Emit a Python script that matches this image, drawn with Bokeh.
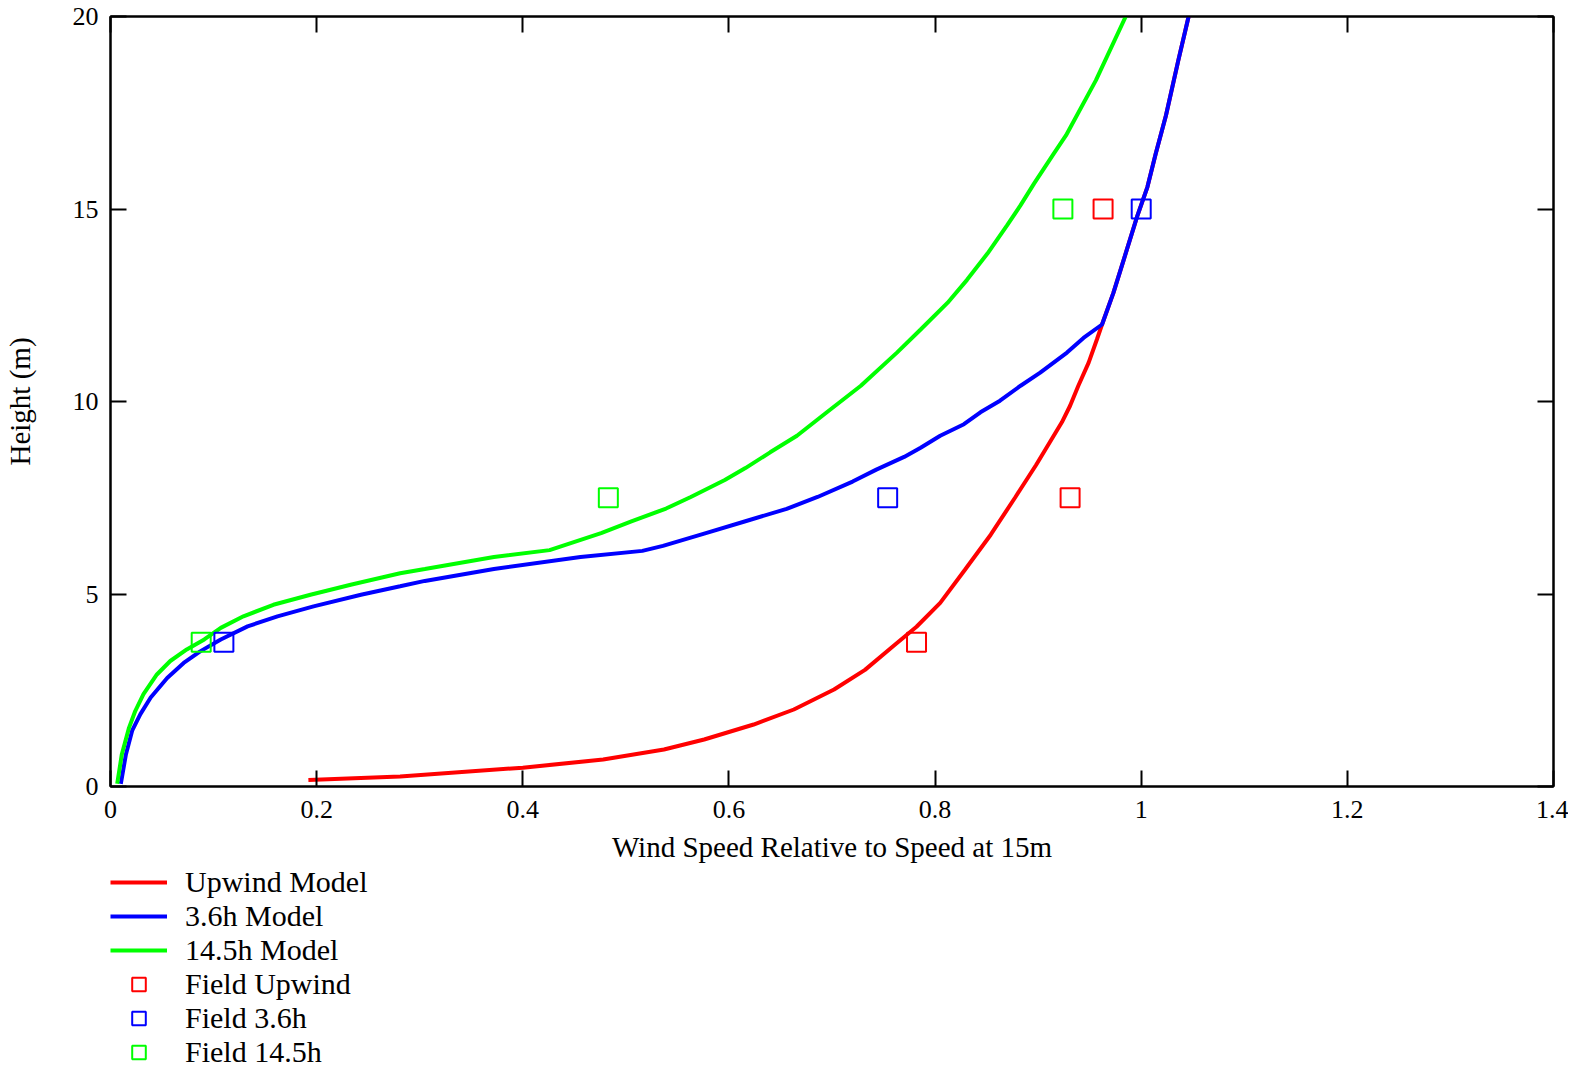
from bokeh.plotting import figure
from bokeh.layouts import column
from bokeh.models import (LinearAxis, FixedTicker, Legend, LegendItem, Range1d,
                          CustomJSTickFormatter)
from bokeh.embed import file_html
from bokeh.resources import INLINE

# ---- data ----
upwind_speed = [0.192, 0.281, 0.400, 0.478, 0.537, 0.576, 0.624, 0.663, 0.702, 0.732,
                0.761, 0.782, 0.805, 0.829, 0.854, 0.878, 0.898, 0.923, 0.931, 0.939,
                0.949, 0.957, 0.962, 0.973, 0.983, 0.996, 1.006, 1.014, 1.024, 1.036,
                1.046]
upwind_height = [0.17, 0.26, 0.49, 0.70, 0.96, 1.22, 1.61, 2.00, 2.52, 3.03,
                 3.68, 4.15, 4.77, 5.63, 6.54, 7.52, 8.35, 9.46, 9.89, 10.41,
                 11.01, 11.61, 12.00, 12.82, 13.68, 14.80, 15.57, 16.43, 17.43, 18.86,
                 20.0]

h36_speed = [0.010, 0.015, 0.021, 0.029, 0.039, 0.055, 0.071, 0.087, 0.107, 0.133,
             0.162, 0.197, 0.243, 0.281, 0.305, 0.372, 0.456, 0.516, 0.536, 0.576,
             0.616, 0.656, 0.686, 0.720, 0.743, 0.770, 0.786, 0.805, 0.828, 0.844,
             0.863, 0.883, 0.902, 0.928, 0.944, 0.962, 0.973, 0.983, 0.996, 1.006,
             1.014, 1.024, 1.036, 1.046]
h36_height = [0.07, 0.84, 1.45, 1.88, 2.31, 2.82, 3.21, 3.51, 3.82, 4.16,
              4.42, 4.68, 4.98, 5.20, 5.34, 5.65, 5.96, 6.12, 6.25, 6.57,
              6.89, 7.21, 7.52, 7.92, 8.23, 8.56, 8.80, 9.11, 9.41, 9.72,
              10.02, 10.41, 10.75, 11.27, 11.65, 12.00, 12.82, 13.68, 14.80, 15.57,
              16.43, 17.43, 18.86, 20.0]

h145_speed = [0.0065, 0.011, 0.018, 0.024, 0.032, 0.045, 0.058, 0.074, 0.091, 0.107,
              0.129, 0.158, 0.194, 0.233, 0.281, 0.305, 0.372, 0.426, 0.476, 0.506,
              0.539, 0.563, 0.596, 0.616, 0.640, 0.666, 0.695, 0.728, 0.763, 0.786,
              0.812, 0.831, 0.851, 0.870, 0.883, 0.896, 0.915, 0.927, 0.956, 0.985]
h145_height = [0.07, 0.84, 1.53, 1.96, 2.40, 2.91, 3.26, 3.56, 3.82, 4.12,
               4.42, 4.72, 4.98, 5.24, 5.54, 5.65, 5.96, 6.14, 6.58, 6.89,
               7.22, 7.52, 7.96, 8.27, 8.68, 9.11, 9.72, 10.41, 11.27, 11.87,
               12.56, 13.16, 13.85, 14.58, 15.10, 15.66, 16.43, 16.91, 18.34, 20.0]

field_height = [3.75, 7.5, 15.0]
field_upwind = [0.782, 0.931, 0.963]
field_36 = [0.110, 0.754, 1.000]
field_145 = [0.088, 0.483, 0.924]

x_ticks = [0, 0.2, 0.4, 0.6, 0.8, 1, 1.2, 1.4]
x_tick_labels = ["0", "0.2", "0.4", "0.6", "0.8", "1", "1.2", "1.4"]
y_ticks = [0, 5, 10, 15, 20]
y_tick_labels = ["0", "5", "10", "15", "20"]

series_labels = ["Upwind Model", "3.6h Model", "14.5h Model",
                 "Field Upwind", "Field 3.6h", "Field 14.5h"]

RED, BLUE, GREEN = "#ff0000", "#0000ff", "#00ff00"
FONT = "Liberation Serif"

p = figure(output_backend="svg", toolbar_location=None,
           frame_width=1443, frame_height=770,
           min_border_left=110, min_border_top=16, min_border_right=15,
           min_border_bottom=0,
           x_range=Range1d(0, 1.4), y_range=Range1d(0, 20),
           x_axis_location=None, y_axis_location=None)
p.xgrid.visible = False
p.ygrid.visible = False
p.outline_line_color = "black"
p.outline_line_width = 2


def style_axis(ax, ticks, labels=None):
    ax.ticker = FixedTicker(ticks=ticks)
    ax.minor_tick_line_color = None
    ax.major_tick_in = 16
    ax.major_tick_out = 0
    ax.major_tick_line_width = 2
    ax.major_tick_line_color = "black"
    ax.axis_line_width = 2
    ax.axis_line_color = "black"
    ax.major_label_text_font = FONT
    ax.major_label_text_font_size = "26px"
    ax.major_label_text_color = "black"
    ax.axis_label_text_font = FONT
    ax.axis_label_text_font_size = "29px"
    ax.axis_label_text_font_style = "normal"
    ax.axis_label_text_color = "black"
    if labels is None:
        ax.formatter = CustomJSTickFormatter(code="return ''")
    else:
        ax.major_label_overrides = {t: l for t, l in zip(ticks, labels)}


xb = LinearAxis(axis_label="Wind Speed Relative to Speed at 15m")
style_axis(xb, x_ticks, x_tick_labels)
xb.major_label_standoff = 14
xb.axis_label_standoff = 10
p.add_layout(xb, "below")

yl = LinearAxis(axis_label="Height (m)")
style_axis(yl, y_ticks, y_tick_labels)
yl.major_label_standoff = 12
yl.axis_label_standoff = 34
p.add_layout(yl, "left")

xt = LinearAxis()
style_axis(xt, x_ticks)
p.add_layout(xt, "above")

yr = LinearAxis()
style_axis(yr, y_ticks)
p.add_layout(yr, "right")

p.line(upwind_speed, upwind_height, line_color=RED, line_width=4)
p.line(h36_speed, h36_height, line_color=BLUE, line_width=4)
p.line(h145_speed, h145_height, line_color=GREEN, line_width=4)

for xs, col in [(field_upwind, RED), (field_36, BLUE), (field_145, GREEN)]:
    p.scatter(xs, field_height, marker="square", size=19,
              fill_color=None, line_color=col, line_width=2)

# ---- legend panel below the chart ----
leg = figure(output_backend="svg", toolbar_location=None,
             width=1568, height=204,
             min_border_left=109, min_border_top=0, min_border_right=0,
             min_border_bottom=0,
             x_range=Range1d(0, 1), y_range=Range1d(0, 1),
             x_axis_location=None, y_axis_location=None)
leg.xgrid.visible = False
leg.ygrid.visible = False
leg.outline_line_color = None

NAN = float("nan")
items = []
for lab, col in zip(series_labels[:3], [RED, BLUE, GREEN]):
    r = leg.line([NAN], [NAN], line_color=col, line_width=4)
    items.append(LegendItem(label=lab, renderers=[r]))
for lab, col in zip(series_labels[3:], [RED, BLUE, GREEN]):
    r = leg.scatter([NAN], [NAN], marker="square", size=19, fill_color=None,
                    line_color=col, line_width=2)
    items.append(LegendItem(label=lab, renderers=[r]))

legend = Legend(items=items)
legend.location = "top_left"
legend.orientation = "vertical"
legend.label_text_font = FONT
legend.label_text_font_size = "30px"
legend.label_text_color = "black"
legend.glyph_width = 57
legend.glyph_height = 34
legend.label_height = 34
legend.label_standoff = 18
legend.spacing = 0
legend.padding = 0
legend.margin = 0
legend.border_line_color = None
legend.background_fill_alpha = 0
leg.add_layout(legend, "center")

open("out.html", "w").write(file_html(column(p, leg, spacing=0), INLINE))
